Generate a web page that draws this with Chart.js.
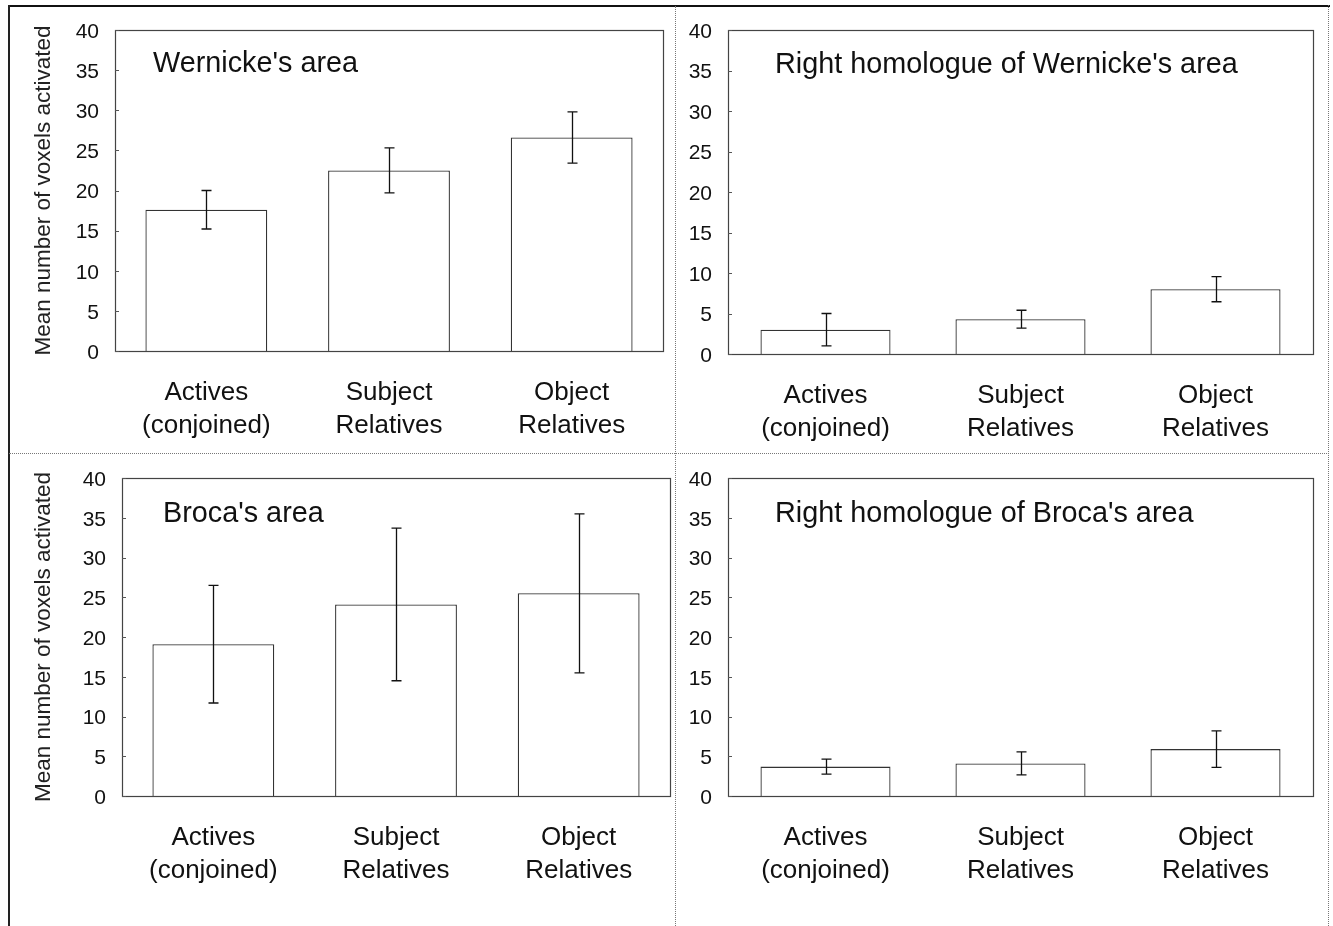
<!DOCTYPE html>
<html>
<head>
<meta charset="utf-8">
<script src="https://cdn.jsdelivr.net/npm/chart.js@4/dist/chart.umd.min.js"></script>
<style>
  html, body { margin: 0; padding: 0; background: #fff; }
  body { width: 1333px; height: 926px; position: relative; overflow: hidden; }
  canvas { position: absolute; }
  .ln { position: absolute; }
</style>
</head>
<body>
<div class="ln" style="left:8px;top:5px;width:1322px;height:0;border-top:2px solid #111;"></div>
<div class="ln" style="left:8px;top:5px;width:0;height:921px;border-left:2px solid #222;"></div>
<div class="ln" style="left:1328px;top:5px;width:0;height:921px;border-left:1px dotted #777;"></div>
<div class="ln" style="left:675px;top:6px;width:0;height:920px;border-left:1px dotted #777;"></div>
<div class="ln" style="left:9px;top:453px;width:1320px;height:0;border-top:1px dotted #777;"></div>

<canvas id="c1"></canvas>
<canvas id="c2"></canvas>
<canvas id="c3"></canvas>
<canvas id="c4"></canvas>

<script>
// ---- data ----
const categories = [["Actives", "(conjoined)"], ["Subject", "Relatives"], ["Object", "Relatives"]];
const yTicks = [0, 5, 10, 15, 20, 25, 30, 35, 40];
const yAxisTitle = "Mean number of voxels activated";

const wernickeMeans = [17.6, 22.5, 26.6];
const wernickeErr = [2.4, 2.8, 3.2];
const rightWernickeMeans = [3.0, 4.3, 8.0];
const rightWernickeErr = [2.0, 1.1, 1.55];
const brocaMeans = [19.1, 24.1, 25.5];
const brocaErr = [7.4, 9.6, 10.0];
const rightBrocaMeans = [3.7, 4.1, 5.9];
const rightBrocaErr = [0.95, 1.45, 2.3];

const panelTitles = ["Wernicke's area", "Right homologue of Wernicke's area", "Broca's area", "Right homologue of Broca's area"];

// ---- layout (page pixels) ----
const FONT = "'Liberation Sans', Arial, Helvetica, sans-serif";
const panels = [
  { id: "c1", canvas: [10, 6, 665, 447], area: [115, 30, 663, 351], means: wernickeMeans, err: wernickeErr, title: panelTitles[0], tOff: [38, 42], yTitle: true },
  { id: "c2", canvas: [676, 6, 652, 447], area: [728, 30, 1313, 354], means: rightWernickeMeans, err: rightWernickeErr, title: panelTitles[1], tOff: [47, 43], yTitle: false },
  { id: "c3", canvas: [10, 454, 665, 472], area: [122, 478, 670, 796], means: brocaMeans, err: brocaErr, title: panelTitles[2], tOff: [41, 44], yTitle: true },
  { id: "c4", canvas: [676, 454, 652, 472], area: [728, 478, 1313, 796], means: rightBrocaMeans, err: rightBrocaErr, title: panelTitles[3], tOff: [47, 44], yTitle: false }
];

const framePlugin = {
  id: "frameAndErrors",
  afterDatasetsDraw(chart, args, opts) {
    const ctx = chart.ctx;
    const ca = chart.chartArea;
    const ys = chart.scales.y;
    ctx.save();
    // frame
    ctx.strokeStyle = "#444";
    ctx.lineWidth = 1.2;
    ctx.strokeRect(ca.left + 0.5, ca.top + 0.5, ca.right - ca.left, ca.bottom - ca.top);
    // inward ticks
    ctx.strokeStyle = "#555";
    ctx.lineWidth = 1;
    yTicks.forEach(v => {
      const y = Math.round(ys.getPixelForValue(v)) + 0.5;
      ctx.beginPath();
      ctx.moveTo(ca.left, y);
      ctx.lineTo(ca.left + 4, y);
      ctx.stroke();
    });
    // error bars
    const meta = chart.getDatasetMeta(0);
    const means = chart.data.datasets[0].data;
    const errs = opts.err;
    ctx.strokeStyle = "#111";
    ctx.lineWidth = 1.3;
    meta.data.forEach((bar, i) => {
      const x = Math.round(bar.x) + 0.5;
      const yt = ys.getPixelForValue(means[i] + errs[i]);
      const yb = ys.getPixelForValue(means[i] - errs[i]);
      ctx.beginPath();
      ctx.moveTo(x, yt); ctx.lineTo(x, yb);
      ctx.moveTo(x - 5, yt); ctx.lineTo(x + 5, yt);
      ctx.moveTo(x - 5, yb); ctx.lineTo(x + 5, yb);
      ctx.stroke();
    });
    // panel title
    ctx.fillStyle = "#111";
    ctx.font = "28.8px " + FONT;
    ctx.textAlign = "left";
    ctx.textBaseline = "alphabetic";
    ctx.fillText(opts.title, ca.left + opts.tOff[0], ca.top + opts.tOff[1]);
    ctx.restore();
  }
};

panels.forEach(p => {
  const [cx, cy, cw, ch] = p.canvas;
  const [l, t, r, b] = p.area;
  const cv = document.getElementById(p.id);
  cv.style.left = cx + "px";
  cv.style.top = cy + "px";
  cv.width = cw; cv.height = ch;
  cv.style.width = cw + "px"; cv.style.height = ch + "px";
  const yW = l - cx;
  const xH = (cy + ch) - b;
  new Chart(cv, {
    type: "bar",
    data: {
      labels: categories,
      datasets: [{
        data: p.means,
        backgroundColor: "#ffffff",
        borderColor: "#333",
        borderWidth: 1.3,
        barPercentage: 0.667,
        categoryPercentage: 1.0
      }]
    },
    plugins: [framePlugin],
    options: {
      responsive: false,
      animation: false,
      devicePixelRatio: 1,
      layout: { padding: { left: 0, top: t - cy, right: (cx + cw) - r, bottom: 0 } },
      plugins: {
        legend: { display: false },
        tooltip: { enabled: false },
        frameAndErrors: { err: p.err, title: p.title, tOff: p.tOff }
      },
      scales: {
        x: {
          grid: { display: false, drawTicks: false },
          border: { display: false },
          ticks: { color: "#111", font: { family: FONT, size: 26, lineHeight: 1.25 }, padding: 26, maxRotation: 0, autoSkip: false },
          afterFit: s => { s.height = xH; s.paddingLeft = 0; s.paddingRight = 0; }
        },
        y: {
          min: 0, max: 40,
          grid: { display: false, drawTicks: false },
          border: { display: false },
          ticks: { stepSize: 5, color: "#111", font: { family: FONT, size: 21 }, padding: 16, labelOffset: 2 },
          title: { display: p.yTitle, text: yAxisTitle, color: "#222", font: { family: FONT, size: 22.5 }, padding: { top: 20, bottom: 0 } },
          afterFit: s => { s.width = yW; s.paddingTop = 0; s.paddingBottom = 0; }
        }
      }
    }
  });
});
</script>
</body>
</html>
